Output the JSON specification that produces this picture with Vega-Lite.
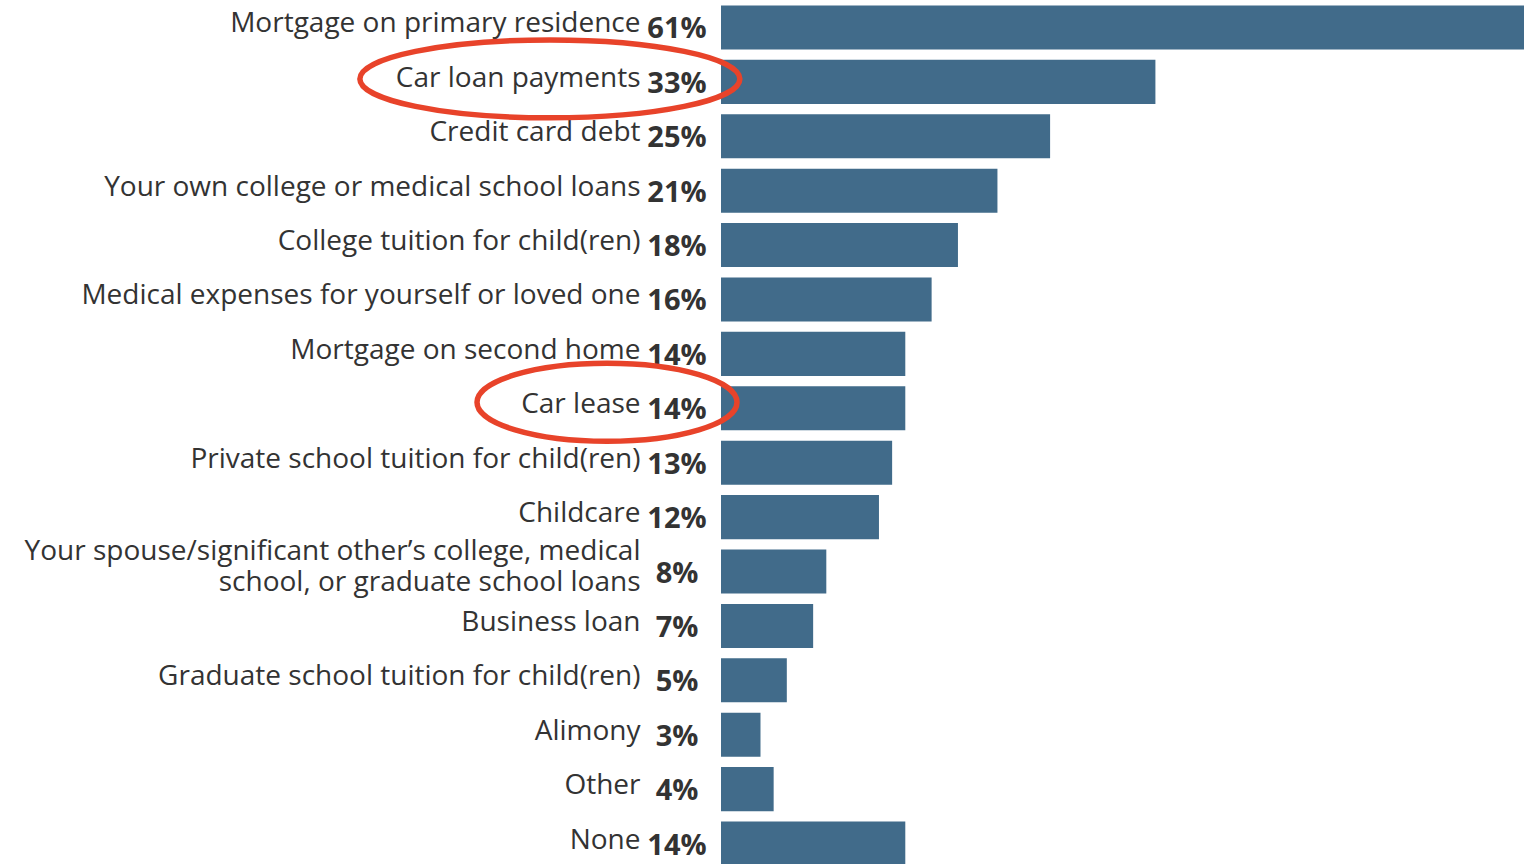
{
  "$schema": "https://vega.github.io/schema/vega-lite/v6.json",
  "autosize": {"type": "none"},
  "padding": {"left": 721, "top": 0, "right": 0, "bottom": 0},
  "width": 803,
  "height": 871,
  "background": "white",
  "config": {"view": {"stroke": null}},
  "datasets": {
    "debts": [
      {"category": "Mortgage on primary residence", "share": 0.61},
      {"category": "Car loan payments", "share": 0.33},
      {"category": "Credit card debt", "share": 0.25},
      {"category": "Your own college or medical school loans", "share": 0.21},
      {"category": "College tuition for child(ren)", "share": 0.18},
      {"category": "Medical expenses for yourself or loved one", "share": 0.16},
      {"category": "Mortgage on second home", "share": 0.14},
      {"category": "Car lease", "share": 0.14},
      {"category": "Private school tuition for child(ren)", "share": 0.13},
      {"category": "Childcare", "share": 0.12},
      {"category": "Your spouse/significant other’s college, medical|school, or graduate school loans", "share": 0.08},
      {"category": "Business loan", "share": 0.07},
      {"category": "Graduate school tuition for child(ren)", "share": 0.05},
      {"category": "Alimony", "share": 0.03},
      {"category": "Other", "share": 0.04},
      {"category": "None", "share": 0.14}
    ],
    "highlights": [
      {"category": "Car loan payments", "cx": -0.130},
      {"category": "Car lease", "cx": -0.0866}
    ]
  },
  "encoding": {
    "y": {
      "field": "category",
      "type": "nominal",
      "sort": null,
      "scale": {"paddingInner": 0.19, "paddingOuter": 0.1},
      "axis": {
        "title": null,
        "domain": false,
        "ticks": false,
        "labelPadding": 81,
        "labelFont": "Open Sans",
        "labelFontSize": 28,
        "labelColor": "#333333",
        "labelLimit": 0,
        "labelOffset": {
          "condition": {"test": "indexof(datum.value, '|') >= 0", "value": -20},
          "value": -3
        },
        "labelLineHeight": 31,
        "labelExpr": "split(datum.label, '|')"
      }
    }
  },
  "layer": [
    {
      "data": {"name": "debts"},
      "mark": {"type": "bar", "color": "#416b8a"},
      "encoding": {
        "x": {
          "field": "share",
          "type": "quantitative",
          "scale": {"domain": [0, 0.61], "nice": false, "zero": true},
          "axis": null
        }
      }
    },
    {
      "data": {"name": "debts"},
      "mark": {
        "type": "text",
        "align": "center",
        "baseline": "middle",
        "dx": -44,
        "dy": 2,
        "font": "Open Sans",
        "fontSize": 29,
        "fontWeight": "bold",
        "color": "#333333"
      },
      "encoding": {
        "x": {"datum": 0},
        "text": {"field": "share", "type": "quantitative", "format": ".0%"}
      }
    },
    {
      "data": {"name": "highlights"},
      "transform": [{"filter": "datum.category === 'Car loan payments'"}],
      "mark": {
        "type": "point",
        "filled": false,
        "stroke": "#e8432a",
        "strokeWidth": 5.5,
        "opacity": 1,
        "size": 144400,
        "yOffset": -3,
        "shape": "M -1 0 C -1 -0.1133 -0.5523 -0.205 0 -0.205 C 0.5523 -0.205 1 -0.1133 1 0 C 1 0.1133 0.5523 0.205 0 0.205 C -0.5523 0.205 -1 0.1133 -1 0 Z"
      },
      "encoding": {
        "x": {"field": "cx", "type": "quantitative"}
      }
    },
    {
      "data": {"name": "highlights"},
      "transform": [{"filter": "datum.category === 'Car lease'"}],
      "mark": {
        "type": "point",
        "filled": false,
        "stroke": "#e8432a",
        "strokeWidth": 5.5,
        "opacity": 1,
        "size": 67600,
        "yOffset": -6,
        "shape": "M -1 0 C -1 -0.1657 -0.5523 -0.3 0 -0.3 C 0.5523 -0.3 1 -0.1657 1 0 C 1 0.1657 0.5523 0.3 0 0.3 C -0.5523 0.3 -1 0.1657 -1 0 Z"
      },
      "encoding": {
        "x": {"field": "cx", "type": "quantitative"}
      }
    }
  ]
}
